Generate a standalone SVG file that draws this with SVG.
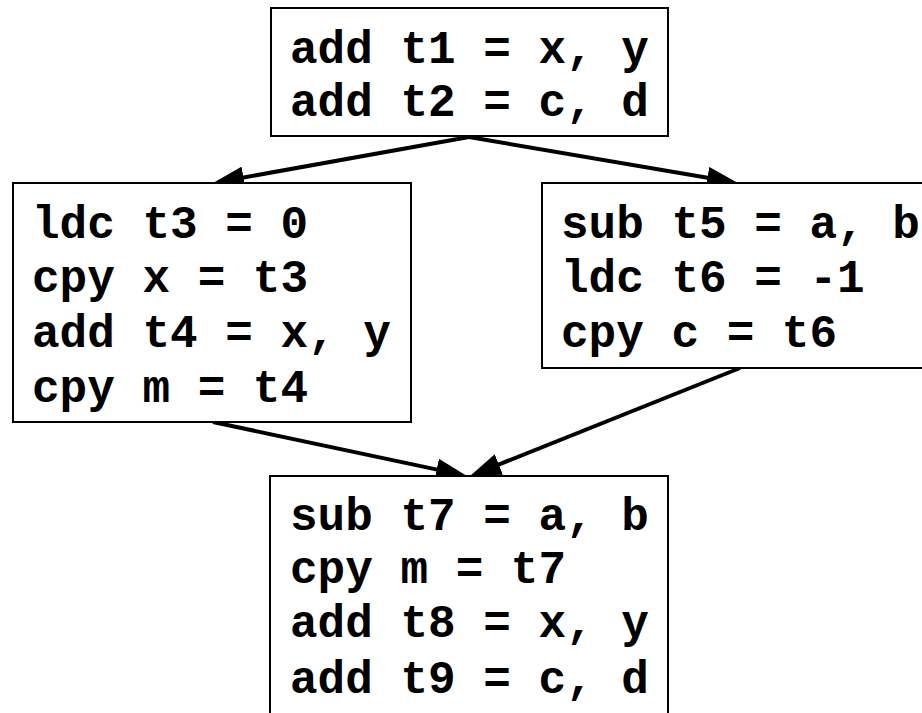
<svg xmlns="http://www.w3.org/2000/svg" width="922" height="713" viewBox="0 0 922 713">
  <style>
    .box { fill: #ffffff; stroke: #000000; stroke-width: 2; }
    .code { font-family: "Liberation Mono", "Courier New", monospace; font-weight: bold; font-size: 46px; fill: #000000; white-space: pre; }
    .edge { stroke: #000000; stroke-width: 4; fill: none; marker-end: url(#head); }
  </style>
  <defs>
    <marker id="head" markerUnits="userSpaceOnUse" markerWidth="32" markerHeight="22" viewBox="0 0 32 22" refX="21" refY="11" orient="auto">
      <path d="M0,0 L31,11 L0,22 z" fill="#000000"/>
    </marker>
  </defs>

  <rect width="922" height="713" fill="#ffffff"/>

  <!-- control-flow edges -->
  <g id="edges">
    <line class="edge" x1="469" y1="137" x2="222.8" y2="181.2"/>
    <line class="edge" x1="469" y1="137" x2="728.1" y2="181.3"/>
    <line class="edge" x1="213" y1="422" x2="457.2" y2="473.9"/>
    <line class="edge" x1="740" y1="368" x2="479.3" y2="472.3"/>
  </g>

  <!-- entry block -->
  <g id="block1">
    <rect class="box" x="271" y="8" width="397" height="128"/>
    <text class="code" x="290" y="63">add t1 = x, y</text>
    <text class="code" x="290" y="116">add t2 = c, d</text>
  </g>

  <!-- left branch -->
  <g id="block2">
    <rect class="box" x="13" y="183" width="398" height="239"/>
    <text class="code" x="32" y="238">ldc t3 = 0</text>
    <text class="code" x="32" y="292">cpy x = t3</text>
    <text class="code" x="32" y="347">add t4 = x, y</text>
    <text class="code" x="32" y="402">cpy m = t4</text>
  </g>

  <!-- right branch -->
  <g id="block3">
    <rect class="box" x="542" y="183" width="400" height="185"/>
    <text class="code" x="561" y="238">sub t5 = a, b</text>
    <text class="code" x="561" y="292">ldc t6 = -1</text>
    <text class="code" x="561" y="347">cpy c = t6</text>
  </g>

  <!-- join block -->
  <g id="block4">
    <rect class="box" x="270" y="476" width="398" height="260"/>
    <text class="code" x="290" y="530">sub t7 = a, b</text>
    <text class="code" x="290" y="583">cpy m = t7</text>
    <text class="code" x="290" y="637">add t8 = x, y</text>
    <text class="code" x="290" y="693">add t9 = c, d</text>
  </g>
</svg>
